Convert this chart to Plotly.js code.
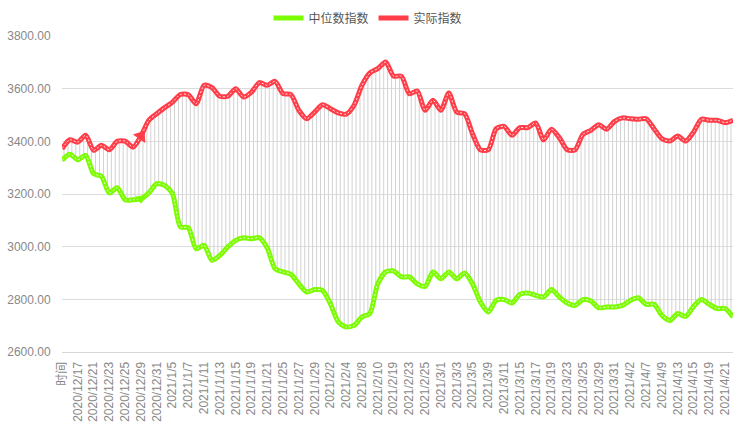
<!DOCTYPE html>
<html>
<head>
<meta charset="utf-8">
<script src="https://cdn.plot.ly/plotly-3.0.1.min.js"></script>
<style>
  html, body { margin: 0; padding: 0; background: #ffffff; }
  #chart { width: 736px; height: 448px; }
</style>
</head>
<body>
<div id="chart"></div>
<script>
// Categories (first entry is the header label that appears on the axis)
const categories = ['时间',
  '2020/12/16','2020/12/17','2020/12/18','2020/12/21','2020/12/22','2020/12/23','2020/12/24','2020/12/25',
  '2020/12/28','2020/12/29','2020/12/30','2020/12/31',
  '2021/1/4','2021/1/5','2021/1/6','2021/1/7','2021/1/8','2021/1/11','2021/1/12','2021/1/13','2021/1/14',
  '2021/1/15','2021/1/18','2021/1/19','2021/1/20','2021/1/21','2021/1/22','2021/1/25','2021/1/26','2021/1/27',
  '2021/1/28','2021/1/29',
  '2021/2/1','2021/2/2','2021/2/3','2021/2/4','2021/2/5','2021/2/8','2021/2/9','2021/2/10','2021/2/18',
  '2021/2/19','2021/2/22','2021/2/23','2021/2/24','2021/2/25','2021/2/26',
  '2021/3/1','2021/3/2','2021/3/3','2021/3/4','2021/3/5','2021/3/8','2021/3/9','2021/3/10','2021/3/11',
  '2021/3/12','2021/3/15','2021/3/16','2021/3/17','2021/3/18','2021/3/19','2021/3/22','2021/3/23','2021/3/24',
  '2021/3/25','2021/3/26','2021/3/29','2021/3/30','2021/3/31',
  '2021/4/1','2021/4/2','2021/4/6','2021/4/7','2021/4/8','2021/4/9','2021/4/12','2021/4/13','2021/4/14',
  '2021/4/15','2021/4/16','2021/4/19','2021/4/20','2021/4/21','2021/4/22'];

// 实际指数
const actualIndex = [3372,3406,3397,3423,3366,3385,3368,3400,3401,3378,
  3420,3480,3505,3528,3549,3578,3577,3543,3613,3604,
  3571,3571,3600,3568,3587,3623,3613,3628,3581,3578,
  3518,3486,3511,3539,3524,3508,3503,3537,3613,3660,
  3676,3701,3648,3647,3581,3591,3518,3556,3518,3584,
  3511,3505,3429,3368,3368,3448,3457,3423,3452,3452,
  3470,3406,3446,3414,3368,3368,3427,3442,3463,3446,
  3476,3489,3486,3484,3486,3448,3410,3401,3420,3401,
  3435,3484,3480,3480,3471,3480];

// 中位数指数
const medianIndex = [3328,3351,3330,3347,3277,3267,3204,3224,3178,3178,
  3182,3204,3239,3233,3201,3075,3072,2992,3005,2948,
  2967,2999,3024,3034,3030,3034,2995,2916,2904,2895,
  2859,2828,2837,2834,2783,2714,2695,2701,2733,2746,
  2859,2904,2908,2885,2885,2859,2849,2904,2878,2904,
  2878,2900,2859,2790,2752,2796,2799,2786,2819,2824,
  2815,2809,2837,2809,2786,2777,2799,2794,2768,2771,
  2771,2777,2796,2806,2781,2781,2739,2720,2746,2735,
  2773,2799,2781,2765,2765,2733];

const yTicks = [2600, 2800, 3000, 3200, 3400, 3600, 3800];

const seriesNames = ['中位数指数', '实际指数'];
const GREEN = '#7CFC00';
const RED = '#FF3D48';

const xTicks = categories.filter((c, i) => i % 2 === 0);

const spread = actualIndex.map((v, i) => v - medianIndex[i]);

const traces = [
  {
    type: 'bar', x: categories, base: medianIndex, y: spread, width: 0.5,
    marker: { color: 'rgba(0,0,0,0)', line: { color: '#d2d2d2', width: 1 } },
    showlegend: false, hoverinfo: 'skip'
  },
  {
    type: 'scatter', mode: 'lines', name: seriesNames[0], x: categories, y: medianIndex,
    line: { color: GREEN, width: 5, shape: 'spline', smoothing: 0.7 }
  },
  {
    type: 'scatter', mode: 'lines', x: categories, y: medianIndex, showlegend: false, hoverinfo: 'skip',
    line: { color: 'rgba(255,255,255,0.85)', width: 1, dash: '2px,2px', shape: 'spline', smoothing: 0.7 }
  },
  {
    type: 'scatter', mode: 'lines', name: seriesNames[1], x: categories, y: actualIndex,
    line: { color: RED, width: 5, shape: 'spline', smoothing: 0.7 }
  },
  {
    type: 'scatter', mode: 'lines', x: categories, y: actualIndex, showlegend: false, hoverinfo: 'skip',
    line: { color: 'rgba(255,255,255,0.85)', width: 1, dash: '2px,2px', shape: 'spline', smoothing: 0.7 }
  },
  {
    type: 'scatter', mode: 'markers', x: [categories[10]], y: [actualIndex[10]], showlegend: false, hoverinfo: 'skip',
    cliponaxis: false,
    marker: { symbol: 'triangle-up', angle: 35, size: 13, color: RED, line: { width: 0 } }
  },
  {
    type: 'scatter', mode: 'markers', x: [categories[10]], y: [medianIndex[10]], showlegend: false, hoverinfo: 'skip',
    cliponaxis: false,
    marker: { symbol: 'triangle-down', size: 10, color: GREEN, line: { width: 0 } }
  }
];

const font = '"Liberation Sans", Arial, "Noto Sans CJK SC", sans-serif';

const layout = {
  width: 736, height: 448,
  margin: { l: 62, r: 3, t: 36, b: 96 },
  paper_bgcolor: '#ffffff', plot_bgcolor: '#ffffff',
  font: { family: font, size: 12, color: '#888888' },
  showlegend: true,
  legend: {
    orientation: 'h', xref: 'container', yref: 'container',
    x: 0.5, xanchor: 'center', y: 0.96, yanchor: 'middle',
    font: { family: font, size: 12, color: '#555555' },
    itemwidth: 30, tracegroupgap: 0, bgcolor: 'rgba(0,0,0,0)'
  },
  xaxis: {
    type: 'category', range: [0, 85],
    tickmode: 'array', tickvals: xTicks, ticktext: xTicks,
    tickangle: -90, tickfont: { size: 12, color: '#888888' },
    showgrid: false, showline: true, linecolor: '#d8d8d8', linewidth: 1,
    ticks: 'outside', ticklen: 4, tickcolor: 'rgba(0,0,0,0)',
    zeroline: false, automargin: false
  },
  yaxis: {
    range: [2600, 3800], tickmode: 'array', tickvals: yTicks, tickformat: '.2f',
    tickfont: { size: 12, color: '#888888' },
    showgrid: true, gridcolor: '#dcdcdc', gridwidth: 1,
    showline: false, zeroline: false,
    ticks: 'outside', ticklen: 8, tickcolor: 'rgba(0,0,0,0)', automargin: false
  },
  bargap: 0
};

Plotly.newPlot('chart', traces, layout, { displayModeBar: false, staticPlot: true });
</script>
</body>
</html>
